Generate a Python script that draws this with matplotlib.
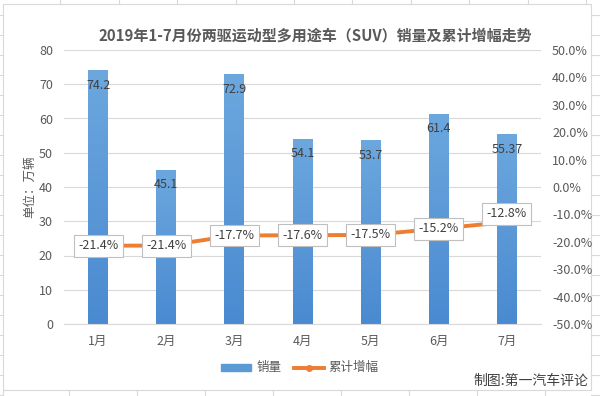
import numpy as np
import matplotlib.pyplot as plt
from matplotlib.lines import Line2D
from matplotlib.patches import Patch, Rectangle

plt.rcParams['font.family'] = ['Noto Sans CJK SC', 'DejaVu Sans']

# data
months = ["1月", "2月", "3月", "4月", "5月", "6月", "7月"]
sales = [74.2, 45.1, 72.9, 54.1, 53.7, 61.4, 55.37]
sales_labels = ["74.2", "45.1", "72.9", "54.1", "53.7", "61.4", "55.37"]
growth = [-21.4, -21.4, -17.7, -17.6, -17.5, -15.2, -12.8]

txt = "#595959"
fig = plt.figure(figsize=(6, 3.96), dpi=100)

# spreadsheet cells behind the chart
for x in [60, 119, 177, 236, 294, 352, 411, 469, 528, 586]:
    fig.add_artist(Line2D([x / 600, x / 600], [1 - 4 / 396, 1], color="#d9d9d9", lw=0.8))
for x in [3, 69, 137, 205, 273, 341, 409, 477, 545]:
    fig.add_artist(Line2D([x / 600, x / 600], [0, 1 - 390 / 396], color="#d9d9d9", lw=0.8))
for y in range(15, 396, 20):
    fig.add_artist(Line2D([0, 3 / 600], [1 - y / 396, 1 - y / 396], color="#d9d9d9", lw=0.8))
    fig.add_artist(Line2D([591 / 600, 1], [1 - y / 396, 1 - y / 396], color="#d9d9d9", lw=0.8))
fig.add_artist(Rectangle((3 / 600, 1 - 390 / 396), 588 / 600, 386 / 396,
                         transform=fig.transFigure, facecolor="white",
                         edgecolor="#d9d9d9", lw=0.8, zorder=0))

ax = fig.add_axes([64 / 600, 1 - 324 / 396, 477 / 600, 274 / 396])
ax.set_facecolor("none")
x = np.arange(len(months))

bars = ax.bar(x, sales, width=0.29, color="#5b9bd5", zorder=2)
# vertical gradient inside each bar
grad = np.linspace(0, 1, 100).reshape(-1, 1)
cmap = plt.matplotlib.colors.LinearSegmentedColormap.from_list("b", ["#4a8ad0", "#6ca7de"])
for b in bars:
    im = ax.imshow(grad, cmap=cmap, aspect="auto", origin="lower",
                   extent=[b.get_x(), b.get_x() + b.get_width(), 0, b.get_height()], zorder=2)
    im.set_clip_path(b)
for xi, v, s in zip(x, sales, sales_labels):
    ax.annotate(s, (xi, v), xytext=(0, -11), textcoords="offset points",
                ha="center", va="center", fontsize=9, color="#404040", zorder=4)

ax.set_xlim(-0.5, len(months) - 0.5)
ax.set_ylim(0, 80)
ax.set_yticks(range(0, 81, 10))
ax.set_xticks(x)
ax.set_xticklabels(months)
ax.grid(axis="y", color="#d9d9d9", lw=0.8, zorder=0)
ax.tick_params(length=0, labelsize=9, colors=txt, pad=8)
for sp in ax.spines.values():
    sp.set_visible(False)
ax.spines["bottom"].set_visible(True)
ax.spines["bottom"].set_color("#d9d9d9")
ax.set_ylabel("单位：万辆", fontsize=9, color=txt, labelpad=2)

ax2 = ax.twinx()
ax2.plot(x, growth, color="#ed7d31", lw=2.8, marker="o", markersize=4, zorder=3)
ax2.set_ylim(-50, 50)
ax2.set_yticks(range(-50, 51, 10))
ax2.set_yticklabels([f"{v:.1f}%" for v in range(-50, 51, 10)])
ax2.tick_params(length=0, labelsize=9, colors=txt, pad=8)
for sp in ax2.spines.values():
    sp.set_visible(False)
for i, (xi, g) in enumerate(zip(x, growth)):
    dy = 6 if i == len(growth) - 1 else 0
    ax2.annotate(f"{g:.1f}%", (xi, g), xytext=(0, dy), textcoords="offset points",
                 ha="center", va="center", fontsize=9, color="#404040",
                 bbox=dict(boxstyle="square,pad=0.35", fc="white", ec="#bfbfbf", lw=0.8),
                 zorder=5)

fig.text(315 / 600, 1 - 35 / 396, "2019年1-7月份两驱运动型多用途车（SUV）销量及累计增幅走势",
         ha="center", va="center", fontsize=10.8, fontweight="bold", color=txt)

handles = [Patch(color="#5b9bd5"),
           Line2D([0], [0], color="#ed7d31", lw=2.8, marker="o", markersize=4)]
fig.legend(handles, ["销量", "累计增幅"], loc="center", bbox_to_anchor=(0.5, 1 - 368 / 396),
           ncol=2, frameon=False, fontsize=9, labelcolor=txt, handlelength=2.4,
           handleheight=0.5, handletextpad=0.4, columnspacing=1.0)

fig.text(588 / 600, 1 - 381 / 396, "制图:第一汽车评论", ha="right", va="center",
         fontsize=10, color="#404040")

fig.savefig("out.png", dpi=100)
